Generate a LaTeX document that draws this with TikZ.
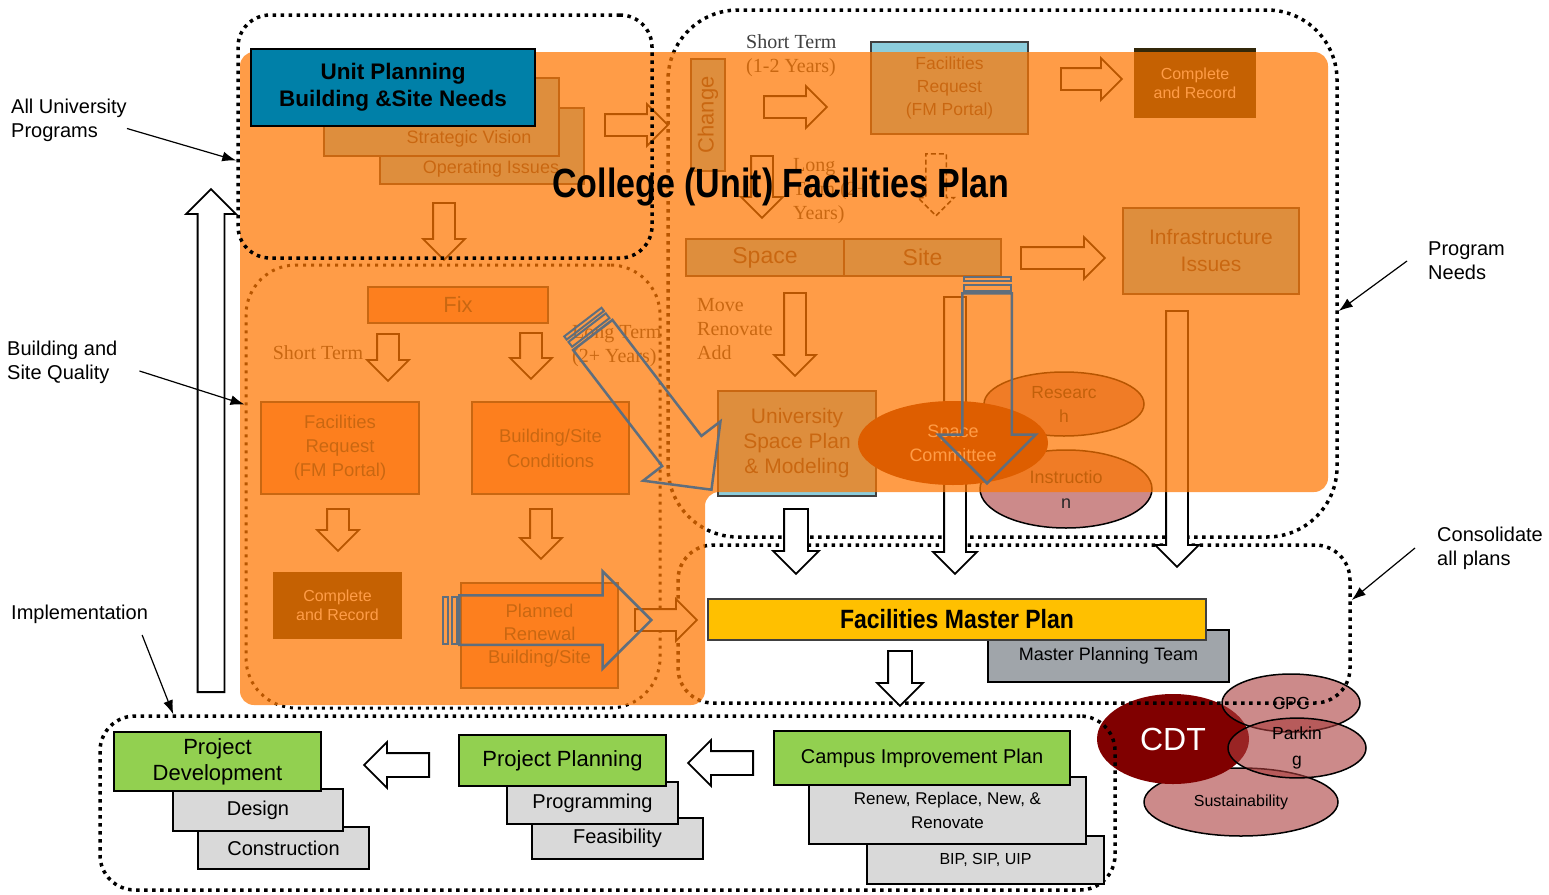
\documentclass[tikz,border=0pt]{standalone}
\usepackage{fontspec}
\setmainfont{Liberation Sans}
\newfontfamily\serifnote{Liberation Serif}
\usepackage{graphicx}
\usetikzlibrary{arrows.meta,positioning,calc,shapes.arrows,shapes.geometric}

\definecolor{ovlorange}{RGB}{255,119,0}
\definecolor{paleblue}{RGB}{140,205,220}
\definecolor{peach}{RGB}{250,150,110}
\definecolor{darkbrown}{RGB}{50,40,10}
\definecolor{txtgray}{RGB}{64,64,64}
\definecolor{unitblue}{RGB}{0,128,168}
\definecolor{leafgreen}{RGB}{146,208,80}
\definecolor{boxgray}{RGB}{217,217,217}
\definecolor{mpgray}{RGB}{160,165,170}
\definecolor{fmpgold}{RGB}{255,192,0}
\definecolor{cdtred}{RGB}{128,0,0}
\definecolor{rosered}{RGB}{170,60,60}
\definecolor{committee}{RGB}{140,30,0}
\definecolor{arrowgray}{RGB}{95,110,125}

\begin{document}
\begin{tikzpicture}[x=1pt, y=-1pt, >=Latex]
\tikzstyle{dotbox}=[draw, rounded corners=35pt, line width=3.5pt,
                    dash pattern=on 3.5pt off 4.5pt, inner sep=0pt]
\tikzstyle{fbox}=[draw=txtgray, line width=2pt, inner sep=0pt,
                  anchor=north west, align=center, text=txtgray]
\tikzstyle{pbox}=[fbox, fill=paleblue]
\tikzstyle{obox}=[fbox, fill=peach]
\tikzstyle{dbox}=[fbox, draw=none, fill=darkbrown, text=white]
\tikzstyle{sbox}=[draw=black, line width=2pt, inner sep=0pt,
                  anchor=north west, align=center]
\tikzstyle{sarrow}=[single arrow, draw=black, fill=white, line width=1.8pt,
                    inner sep=0pt, inner ysep=10pt, single arrow head extend=10pt, anchor=tail]
\tikzstyle{warrow}=[sarrow, inner ysep=11pt, single arrow head extend=11pt]
\tikzstyle{garrow}=[single arrow, draw=arrowgray, line width=2.5pt, inner sep=0pt,
                    inner ysep=23.5pt, single arrow head extend=24pt, anchor=tail]
\tikzstyle{bubble}=[ellipse, draw=black, line width=1.5pt, fill=rosered,
                    fill opacity=0.6, text opacity=1, inner sep=0pt, align=center]
\tikzstyle{lbl}=[inner sep=0pt, align=left, font=\fontsize{20}{24}\selectfont]
\tikzstyle{note}=[inner sep=0pt, align=left, text=txtgray,
                  font=\serifnote\fontsize{20}{24}\selectfont]
\tikzstyle{pointer}=[-{Latex[length=14pt,width=10pt]}, line width=1.2pt]

\fill[white] (0,0) rectangle (1549,894);
\useasboundingbox (0,0) rectangle (1549,894);

% committees
\node[bubble, minimum width=194pt, minimum height=68pt, font=\fontsize{16}{20}\selectfont] (susell) at (1241,802) {Sustainability};
\node[ellipse, fill=cdtred, text=white, minimum width=152pt, minimum height=90pt, inner sep=0pt,
      font=\fontsize{32}{36}\selectfont] (cdtell) at (1173,739) {CDT};
\node[bubble, minimum width=138pt, minimum height=58pt, font=\fontsize{17.5}{22}\selectfont] (cpcell) at (1291,703) {CPC};
\node[bubble, minimum width=138pt, minimum height=58pt, font=\fontsize{17.5}{26}\selectfont] (parkell) at (1297,748) {Parkin\\g};

% dotted groups
\node[dotbox, rounded corners=50pt, line width=3pt, dash pattern=on 3pt off 5pt,
      minimum width=414pt, minimum height=443pt] (qualbox) at (453,486.5) {};
\node[dotbox, rounded corners=70pt, minimum width=669pt, minimum height=527pt] (rightbox) at (1002.5,273.5) {};
\node[dotbox, minimum width=672pt, minimum height=158pt] (fmpbox) at (1014,624) {};
\node[dotbox, minimum width=1015pt, minimum height=174pt] (implbox) at (607.5,803) {};

% unit needs
\node[pbox, minimum width=204pt, minimum height=76pt] (opbox) at (379,107) {};
\node[text=txtgray, font=\fontsize{18}{22}\selectfont] (optext) at (491,169) {Operating Issues};
\node[pbox, minimum width=235pt, minimum height=78pt] (svbox) at (323,77) {};
\node[text=txtgray, font=\fontsize{18}{22}\selectfont] (svtext) at (469,139) {Strategic Vision};
\node[sarrow, minimum height=63pt] (unitright) at (604,125) {};
\node[sarrow, rotate=-90, minimum height=57pt] (unitdown) at (444,202) {};

% fix
\node[obox, minimum width=180pt, minimum height=36pt, font=\fontsize{22}{26}\selectfont] (fixbox) at (367,286) {Fix};
\node[note, anchor=center] (shortfix) at (318,353) {Short Term};
\node[sarrow, rotate=-90, minimum height=47pt] (fixshort) at (388,333) {};
\node[sarrow, rotate=-90, minimum height=46pt] (fixlong) at (531,332) {};
\node[note, anchor=west] (longfix) at (572,346) {Long Term\\(2+ Years)};
\node[obox, minimum width=158pt, minimum height=92pt, font=\fontsize{18.5}{24}\selectfont] (frleft) at (260,401) {Facilities\\Request\\(FM Portal)};
\node[obox, minimum width=157pt, minimum height=92pt, font=\fontsize{18.5}{25}\selectfont] (bscbox) at (471,401) {Building/Site\\Conditions};
\node[sarrow, rotate=-90, minimum height=42pt] (frdown) at (338,508) {};
\node[sarrow, rotate=-90, minimum height=50pt] (bscdown) at (541,508) {};
\node[dbox, minimum width=129pt, minimum height=67pt, font=\fontsize{16}{19}\selectfont] (crleft) at (272,571) {Complete\\and Record};
\node[obox, minimum width=157pt, minimum height=105pt, font=\fontsize{18.5}{23}\selectfont] (prbox) at (460,582) {Planned\\Renewal\\Building/Site};
\node[sarrow, minimum height=62pt] (prright) at (634,620) {};

% change
\node[pbox, minimum width=34pt, minimum height=112pt] (chgbox) at (690,58) {};
\node[rotate=90, text=txtgray, font=\fontsize{22}{26}\selectfont] (chgtext) at (chgbox.center) {Change};
\node[note, anchor=west] (shorttop) at (746,56) {Short Term\\(1-2 Years)};
\node[sarrow, minimum height=63pt] (shortright) at (763,107) {};
\node[pbox, minimum width=157pt, minimum height=92pt, font=\fontsize{17.5}{23}\selectfont] (frtop) at (870,41) {Facilities\\Request\\(FM Portal)};
\node[sarrow, minimum height=61pt] (frtopright) at (1060,79) {};
\node[dbox, minimum width=122pt, minimum height=70pt, font=\fontsize{16}{19}\selectfont] (crtop) at (1133,47) {Complete\\and Record};
\node[sarrow, rotate=-90, minimum height=62pt] (chgdown) at (762,155) {};
\node[note, anchor=west] (longtop) at (793,191) {Long\\Term (2+\\Years)};
\node[sarrow, rotate=-90, dash pattern=on 5pt off 3pt, line width=1.5pt, inner ysep=9.5pt,
      single arrow head extend=8pt, minimum height=62pt] (dashdown) at (936,153) {};
\node[pbox, minimum width=158pt, minimum height=37pt, font=\fontsize{23}{27}\selectfont] (spacebox) at (685,238) {Space};
\node[pbox, minimum width=157pt, minimum height=37pt, font=\fontsize{23}{27}\selectfont] (sitebox) at (843,238) {Site};
\node[sarrow, minimum height=84pt] (siteright) at (1020,258) {};
\node[pbox, minimum width=176pt, minimum height=86pt, font=\fontsize{21}{27}\selectfont] (infrabox) at (1122,207) {Infrastructure\\Issues};
\node[note, anchor=west] (movetext) at (697,329) {Move\\Renovate\\Add};
\node[sarrow, rotate=-90, minimum height=83pt] (movedown) at (795,292) {};
\node[pbox, minimum width=158pt, minimum height=105pt, font=\fontsize{21}{25}\selectfont] (uspbox) at (717,390) {University\\Space Plan\\\& Modeling};
\node[warrow, rotate=-90, inner ysep=10pt, minimum height=277pt] (spcdown) at (955,296) {};
\node[warrow, rotate=-90, inner ysep=10pt, minimum height=256pt] (infradown) at (1177,310) {};
\node[warrow, rotate=-90, minimum height=65pt] (uspdown) at (796,508) {};
\node[bubble, minimum width=160pt, minimum height=64pt, text=black!85, font=\fontsize{17.5}{24}\selectfont] (resell) at (1064,404) {Researc\\h};
\node[bubble, minimum width=172pt, minimum height=78pt, text=black!85, font=\fontsize{18}{25}\selectfont] (insell) at (1066,489) {Instructio\\n};
\node[ellipse, fill=committee, text=white, minimum width=190pt, minimum height=84pt, inner sep=0pt,
      align=center, font=\fontsize{18}{24}\selectfont] (spcell) at (953,443) {Space\\Committee};

% college plan wash
\fill[ovlorange, opacity=0.72, rounded corners=14pt]
  (240,52) -- (1328,52) -- (1328,492) -- (705,492) -- (705,705) -- (240,705) -- cycle;

\node[dotbox, rounded corners=32pt, minimum width=414pt, minimum height=243pt] (unitbox) at (445,136.5) {};
\node[sbox, fill=unitblue, minimum width=284pt, minimum height=77pt,
      font=\bfseries\fontsize{22.5}{27}\selectfont] (unitplan) at (250,48) {Unit Planning\\Building \&Site Needs};
\node[font=\bfseries\fontsize{34}{40}\selectfont] (title) at (781,187) {\scalebox{1}[1.2]{College (Unit) Facilities Plan}};

% long-term arrows
\node[garrow, rotate=-52.5, minimum height=195pt] (longarrow) at (592,334) {};
\node[garrow, rotate=-90, minimum height=190pt] (sitearrow) at (987,292) {};
\node[garrow, minimum height=192pt] (renewarrow) at (458,620) {};
\draw[arrowgray, line width=2pt] (443,596.5) rectangle (448,643.5) (452,596.5) rectangle (457,643.5);
\draw[arrowgray, line width=2pt] (963.5,277) rectangle (1010.5,281) (963.5,285) rectangle (1010.5,291);
\begin{scope}[shift={(592,334)}, rotate=-52.5]
\draw[arrowgray, line width=2pt] (-15,-23.5) rectangle (-11,23.5) (-8,-23.5) rectangle (-2,23.5);
\end{scope}

% master plan
\node[sbox, fill=mpgray, minimum width=241pt, minimum height=52pt, font=\fontsize{18}{22}\selectfont] (mptbox) at (987,629) {Master Planning Team};
\node[sbox, draw=txtgray, fill=fmpgold, minimum width=498pt, minimum height=41pt,
      font=\bfseries\fontsize{23}{27}\selectfont] (fmpbar) at (707,598) {\scalebox{1}[1.15]{Facilities Master Plan}};
\node[warrow, rotate=-90, minimum height=55pt] (fmpdown) at (900,650) {};

% implementation
\node[sbox, fill=boxgray, minimum width=171pt, minimum height=42pt, font=\fontsize{20}{24}\selectfont] (conbox) at (197,826) {Construction};
\node[sbox, fill=boxgray, minimum width=170pt, minimum height=42pt, font=\fontsize{20}{24}\selectfont] (desbox) at (172,788) {Design};
\node[sbox, fill=leafgreen, minimum width=207pt, minimum height=59pt, font=\fontsize{22}{26}\selectfont] (pdbox) at (113,731) {Project\\Development};
\node[warrow, rotate=180, minimum height=65pt] (ppleft) at (430,765) {};
\node[sbox, fill=boxgray, minimum width=171pt, minimum height=41pt, font=\fontsize{20}{24}\selectfont] (feabox) at (531,817) {Feasibility};
\node[sbox, fill=boxgray, minimum width=171pt, minimum height=42pt, font=\fontsize{20}{24}\selectfont] (progbox) at (506,781) {Programming};
\node[sbox, fill=leafgreen, minimum width=207pt, minimum height=51pt, font=\fontsize{22}{26}\selectfont] (ppbox) at (458,734) {Project Planning};
\node[warrow, rotate=180, minimum height=65pt] (cipleft) at (754,763) {};
\node[sbox, fill=boxgray, minimum width=237pt, minimum height=48pt, font=\fontsize{16}{20}\selectfont] (bipbox) at (866,835) {BIP, SIP, UIP};
\node[sbox, fill=boxgray, minimum width=277pt, minimum height=67pt, font=\fontsize{17}{24}\selectfont] (rnwbox) at (808,776) {Renew, Replace, New, \&\\Renovate};
\node[sbox, fill=leafgreen, minimum width=296pt, minimum height=54pt, font=\fontsize{20}{24}\selectfont] (cipbox) at (773,730) {Campus Improvement Plan};
\node[sarrow, rotate=90, inner ysep=12.5pt, single arrow head extend=11.5pt, minimum height=503pt] (implup) at (211,693) {};

% side labels
\node[lbl, anchor=west] (lblall) at (11,120.5) {All University\\Programs};
\node[lbl, anchor=west] (lblbld) at (7,362) {Building and\\Site Quality};
\node[lbl, anchor=west] (lblimp) at (11,614) {Implementation};
\node[lbl, anchor=west] (lblprog) at (1428,261) {Program\\Needs};
\node[lbl, anchor=west] (lblcons) at (1437,548) {Consolidate\\all plans};

\draw[pointer] ([yshift=-8pt]lblall.east) -- ([yshift=-24pt]unitbox.west);
\draw[pointer] ([xshift=22pt,yshift=-9pt]lblbld.east) -- ([yshift=82pt]qualbox.west);
\draw[pointer] ([xshift=-6pt,yshift=-21pt]lblimp.east) -- ([xshift=75pt]implbox.north west);
\draw[pointer] ([xshift=-21pt]lblprog.west) -- ([yshift=-37.5pt]rightbox.east);
\draw[pointer] ([xshift=-22pt]lblcons.west) -- ([yshift=24pt]fmpbox.east);

\end{tikzpicture}
\end{document}
